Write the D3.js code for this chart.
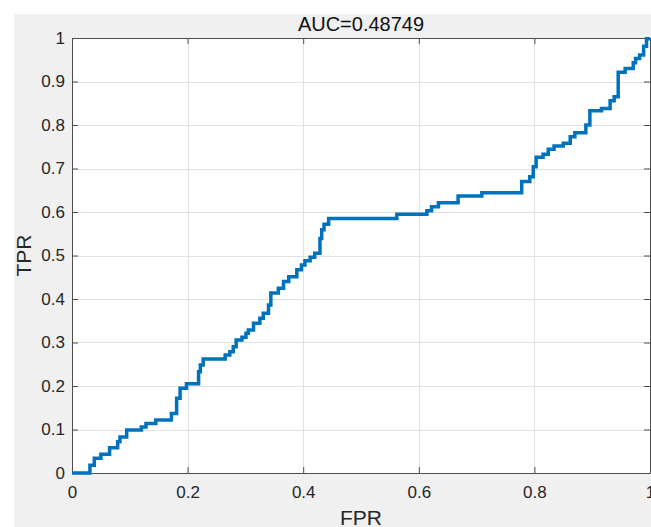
<!DOCTYPE html>
<html>
<head>
<meta charset="utf-8">
<script src="https://cdn.jsdelivr.net/npm/d3@7"></script>
<style>
  html, body { margin: 0; padding: 0; background: #ffffff; }
  svg { display: block; }
  text { font-family: "Liberation Sans", Arial, Helvetica, sans-serif; }
</style>
</head>
<body>
<svg id="chart" width="651" height="527"></svg>
<script>
// ---- data ----
const titleText = "AUC=0.48749";
const xLabel = "FPR";
const yLabel = "TPR";
const xTicks = [0, 0.2, 0.4, 0.6, 0.8, 1];
const xTickLabels = ["0", "0.2", "0.4", "0.6", "0.8", "1"];
const yTicks = [0, 0.1, 0.2, 0.3, 0.4, 0.5, 0.6, 0.7, 0.8, 0.9, 1];
const yTickLabels = ["0", "0.1", "0.2", "0.3", "0.4", "0.5", "0.6", "0.7", "0.8", "0.9", "1"];

// step points: at each FPR value the TPR jumps to the given value
const fpr = [0, 0.031, 0.0386, 0.050, 0.065, 0.079, 0.083, 0.0946, 0.120, 0.128,
  0.145, 0.172, 0.181, 0.187, 0.198, 0.219, 0.222, 0.227, 0.265, 0.273,
  0.279, 0.284, 0.294, 0.301, 0.305, 0.314, 0.325, 0.331, 0.340, 0.344,
  0.357, 0.366, 0.375, 0.389, 0.397, 0.403, 0.412, 0.420, 0.429, 0.432,
  0.436, 0.444, 0.562, 0.614, 0.622, 0.634, 0.668, 0.709, 0.778, 0.792,
  0.798, 0.803, 0.815, 0.824, 0.834, 0.850, 0.862, 0.870, 0.889, 0.896,
  0.916, 0.931, 0.938, 0.945, 0.957, 0.971, 0.975, 0.982, 0.989, 0.994, 1];
const tpr = [0, 0.018, 0.034, 0.043, 0.058, 0.072, 0.083, 0.099, 0.106, 0.114,
  0.122, 0.137, 0.172, 0.195, 0.205, 0.233, 0.248, 0.262, 0.271, 0.279,
  0.290, 0.306, 0.312, 0.321, 0.329, 0.344, 0.356, 0.367, 0.386, 0.414,
  0.425, 0.440, 0.451, 0.467, 0.478, 0.488, 0.496, 0.505, 0.539, 0.559,
  0.572, 0.585, 0.595, 0.603, 0.612, 0.621, 0.637, 0.644, 0.670, 0.681,
  0.704, 0.726, 0.733, 0.744, 0.752, 0.758, 0.773, 0.782, 0.800, 0.833,
  0.838, 0.856, 0.865, 0.921, 0.930, 0.943, 0.953, 0.961, 0.981, 0.998, 1];

// ---- layout ----
const W = 651, H = 527;
const plot = { left: 72, right: 650, top: 38, bottom: 473 };
const svg = d3.select("#chart");

// figure background (white strip at top/left, grey panel)
svg.append("rect").attr("x", 0).attr("y", 0).attr("width", W).attr("height", H).attr("fill", "#ffffff");
svg.append("rect").attr("x", 14).attr("y", 14).attr("width", W - 14).attr("height", H - 14).attr("fill", "#f0f0f0");

const x = d3.scaleLinear().domain([0, 1]).range([plot.left, plot.right]);
const y = d3.scaleLinear().domain([0, 1]).range([plot.bottom, plot.top]);

// plot area
svg.append("rect")
  .attr("x", plot.left).attr("y", plot.top)
  .attr("width", plot.right - plot.left).attr("height", plot.bottom - plot.top)
  .attr("fill", "#ffffff");

// grid
const grid = svg.append("g").attr("stroke", "#e1e1e1").attr("stroke-width", 1);
grid.selectAll("line.gx").data(xTicks.slice(1, -1)).join("line")
  .attr("x1", d => Math.round(x(d)) + 0.5).attr("x2", d => Math.round(x(d)) + 0.5)
  .attr("y1", plot.top).attr("y2", plot.bottom);
grid.selectAll("line.gy").data(yTicks.slice(1, -1)).join("line")
  .attr("y1", d => Math.round(y(d)) + 0.5).attr("y2", d => Math.round(y(d)) + 0.5)
  .attr("x1", plot.left).attr("x2", plot.right);

const axisColor = "#4d4d4d";
const tickColor = "#262626";
function styleAxis(g) {
  g.select(".domain").attr("stroke", axisColor);
  g.selectAll(".tick line").attr("stroke", axisColor);
  g.selectAll(".tick text").attr("fill", tickColor).style("font-size", "17px")
    .style("font-family", '"Liberation Sans", Arial, sans-serif');
}

// bottom axis
const gx = svg.append("g").attr("transform", `translate(0,${plot.bottom})`)
  .call(d3.axisBottom(x).tickValues(xTicks).tickFormat((d, i) => xTickLabels[i])
    .tickSizeInner(-6).tickSizeOuter(0).tickPadding(13));
styleAxis(gx);
// top axis (box)
const gxt = svg.append("g").attr("transform", `translate(0,${plot.top})`)
  .call(d3.axisTop(x).tickValues(xTicks).tickFormat("").tickSizeInner(-6).tickSizeOuter(0));
styleAxis(gxt);
// left axis
const gy = svg.append("g").attr("transform", `translate(${plot.left},0)`)
  .call(d3.axisLeft(y).tickValues(yTicks).tickFormat((d, i) => yTickLabels[i])
    .tickSizeInner(-6).tickSizeOuter(0).tickPadding(7));
styleAxis(gy);
// right axis (box)
const gyr = svg.append("g").attr("transform", `translate(${plot.right},0)`)
  .call(d3.axisRight(y).tickValues(yTicks).tickFormat("").tickSizeInner(-6).tickSizeOuter(0));
styleAxis(gyr);

// ROC curve
const pts = fpr.map((f, i) => [f, tpr[i]]);
const line = d3.line().x(d => x(d[0])).y(d => y(d[1])).curve(d3.curveStepAfter);
svg.append("path").datum(pts)
  .attr("d", line)
  .attr("fill", "none")
  .attr("stroke", "#0072BD")
  .attr("stroke-width", 3.5)
  .attr("stroke-linejoin", "miter");

// title and labels
svg.append("text").attr("x", (plot.left + plot.right) / 2).attr("y", 31)
  .attr("text-anchor", "middle").attr("fill", "#111111")
  .style("font-size", "20px").text(titleText);
svg.append("text").attr("x", (plot.left + plot.right) / 2).attr("y", 525)
  .attr("text-anchor", "middle").attr("fill", "#262626")
  .style("font-size", "21px").text(xLabel);
svg.append("text")
  .attr("transform", `translate(31,${(plot.top + plot.bottom) / 2}) rotate(-90)`)
  .attr("text-anchor", "middle").attr("fill", "#262626")
  .style("font-size", "21px").text(yLabel);
</script>
</body>
</html>
